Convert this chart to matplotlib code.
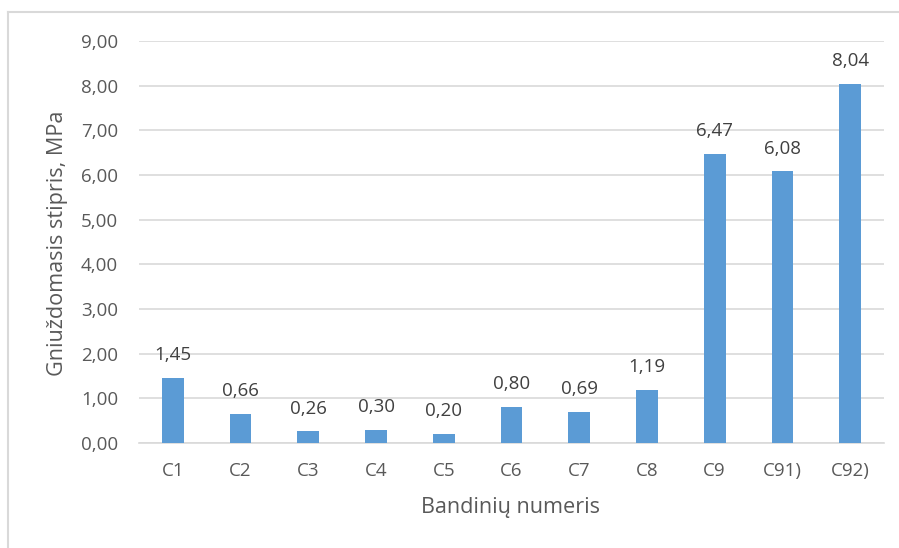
import matplotlib.pyplot as plt
from matplotlib.lines import Line2D

# Compressive strength per specimen
samples = ["C1", "C2", "C3", "C4", "C5", "C6", "C7", "C8", "C9", "C91)", "C92)"]
strength = [1.45, 0.66, 0.26, 0.30, 0.20, 0.80, 0.69, 1.19, 6.47, 6.08, 8.04]
y_ticks = [0, 1, 2, 3, 4, 5, 6, 7, 8, 9]

plt.rcParams['font.family'] = ['Open Sans', 'DejaVu Sans']
txt = '#595959'
bar_color = '#5B9BD5'

W, H = 899, 548
fig = plt.figure(figsize=(W / 100, H / 100), dpi=100)
ax = fig.add_axes([139 / W, 1 - 443 / H, (884 - 139) / W, (443 - 41) / H])

x = range(len(samples))
ax.bar(x, strength, width=0.32, color=bar_color, zorder=3)
for xi, v in zip(x, strength):
    ax.text(xi, v + 0.40, f"{v:.2f}".replace('.', ','), ha='center', va='baseline',
            fontsize=13.5, color='#404040', zorder=4)

ax.set_xlim(-0.5, len(samples) - 0.5)
ax.set_ylim(0, 9)
ax.set_yticks(y_ticks)
ax.set_yticklabels([f"{t:.2f}".replace('.', ',') for t in y_ticks])
ax.set_xticks(list(x))
ax.set_xticklabels(samples)
ax.grid(axis='y', color='#D9D9D9', linewidth=1.2, zorder=0)
for s in ['top', 'right', 'left']:
    ax.spines[s].set_visible(False)
ax.spines['bottom'].set_color('#D9D9D9')
ax.spines['bottom'].set_linewidth(1.2)
ax.tick_params(axis='both', length=0, labelsize=13.5, colors=txt)
ax.tick_params(axis='x', pad=14)
ax.tick_params(axis='y', pad=15)

fig.text(511 / W, 1 - 508 / H, "Bandinių numeris", ha='center', va='center',
         fontsize=15.6, color=txt)
fig.text(57 / W, 1 - 243 / H, "Gniuždomasis stipris, MPa", ha='center', va='center',
         rotation=90, fontsize=15.6, color=txt)

# chart frame (left and top edges visible)
fig.add_artist(Line2D([8 / W, 8 / W], [0, 1 - 12 / H], color='#D9D9D9', lw=1.5))
fig.add_artist(Line2D([8 / W, 1], [1 - 12 / H, 1 - 12 / H], color='#D9D9D9', lw=1.5))

fig.savefig("out.png", dpi=100)
